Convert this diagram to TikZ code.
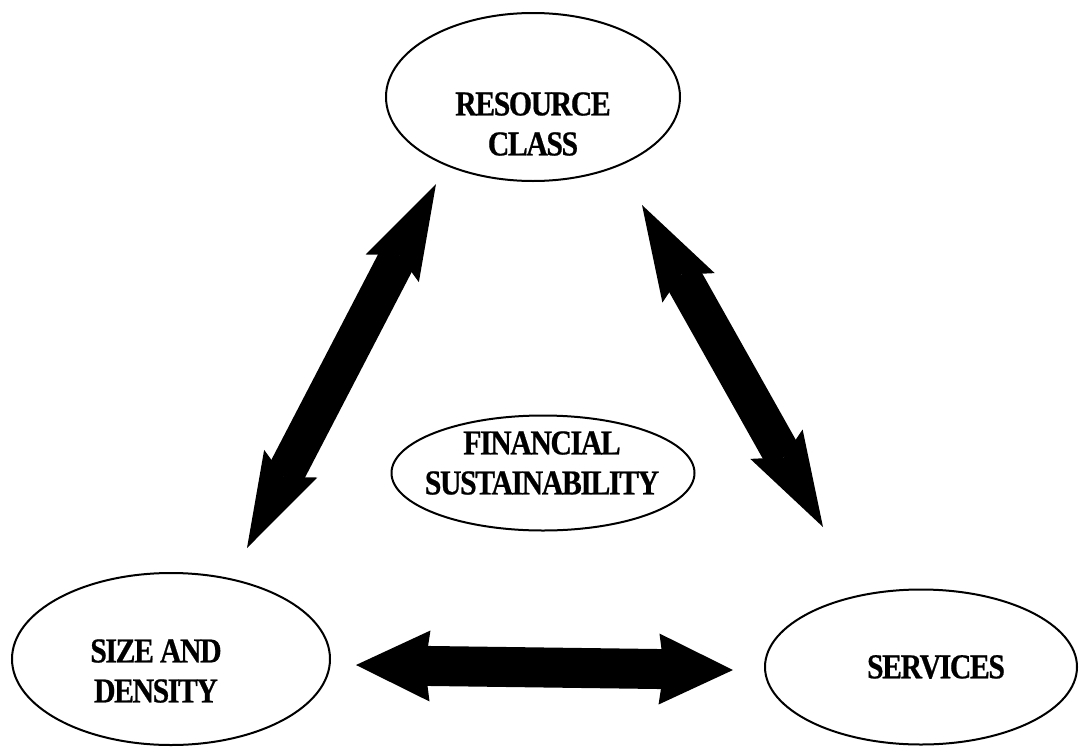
\documentclass[tikz,border=0pt]{standalone}
\usepackage{fontspec}
\newfontfamily\lblfont{Liberation Serif}[FakeStretch=0.85,LetterSpace=-4,FakeBold=0.6]
\usetikzlibrary{shapes.geometric,arrows.meta}
\begin{document}
\begin{tikzpicture}[x=1pt,y=-1pt,
  oval/.style={draw=black,line width=2pt,ellipse,inner sep=0pt},
  lbl/.style={align=center,inner sep=0pt,font=\lblfont\bfseries\fontsize{35}{40}\selectfont},
  diagarrow/.style={line width=38pt,{Stealth[length=95pt,width=60pt,inset=15pt,line width=0pt]}-{Stealth[length=95pt,width=60pt,inset=15pt,line width=0pt]}},
  horarrow/.style={line width=40pt,{Stealth[length=74pt,width=71pt,inset=5pt,line width=0pt]}-{Stealth[length=74pt,width=71pt,inset=5pt,line width=0pt]}}
]
\useasboundingbox (0,0) rectangle (1079,747);
\node[oval,minimum width=294pt,minimum height=168pt] (rc) at (533,97) {};
\node[lbl] (rct) at (533,124) {RESOURCE\\CLASS};
\node[oval,minimum width=318pt,minimum height=172pt] (sd) at (171,659) {};
\node[lbl] (sdt) at (156,671) {SIZE AND\\DENSITY};
\node[oval,minimum width=312pt,minimum height=155pt] (sv) at (921,667) {};
\node[lbl] (svt) at (936,667) {SERVICES};
\node[oval,minimum width=303pt,minimum height=115pt] (fs) at (543,473) {};
\node[lbl] (fst) at (542,463) {FINANCIAL\\SUSTAINABILITY};
\coordinate (a1) at (247,548);
\coordinate (a2) at (436,184);
\coordinate (b1) at (642,205);
\coordinate (b2) at (823,527);
\coordinate (c1) at (356,665);
\coordinate (c2) at (733,670);
\draw[diagarrow] (a1) -- (a2);
\draw[diagarrow] (b1) -- (b2);
\draw[horarrow] (c1) -- (c2);
\end{tikzpicture}
\end{document}
